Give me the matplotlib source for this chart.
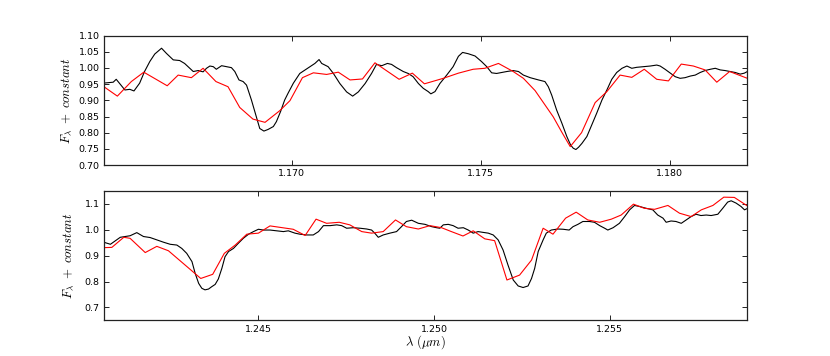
import matplotlib
matplotlib.use('Agg')
import matplotlib.pyplot as plt
from matplotlib.ticker import FormatStrFormatter, MultipleLocator

plt.rcParams['mathtext.fontset'] = 'cm'
plt.rcParams['font.family'] = 'DejaVu Sans'

# ---- top panel (1.165 - 1.182 um) ----
top_obs_wave = [1.16500, 1.16527, 1.16535, 1.16558, 1.16571, 1.16582, 1.16597, 1.16610, 1.16624,
                1.16637, 1.16655, 1.16668, 1.16686, 1.16703, 1.16716, 1.16730, 1.16739, 1.16752,
                1.16765, 1.16774, 1.16783, 1.16792, 1.16800, 1.16814, 1.16827, 1.16840, 1.16849,
                1.16860, 1.16871, 1.16880, 1.16893, 1.16906, 1.16915, 1.16926, 1.16937, 1.16951,
                1.16959, 1.16970, 1.16981, 1.16990, 1.17004, 1.17021, 1.17048, 1.17061, 1.17072,
                1.17079, 1.17096, 1.17110, 1.17127, 1.17145, 1.17161, 1.17176, 1.17194, 1.17211,
                1.17224, 1.17238, 1.17253, 1.17264, 1.17277, 1.17295, 1.17308, 1.17321, 1.17335,
                1.17348, 1.17361, 1.17368, 1.17379, 1.17392, 1.17410, 1.17427, 1.17441, 1.17452,
                1.17467, 1.17485, 1.17502, 1.17516, 1.17529, 1.17542, 1.17555, 1.17569, 1.17586,
                1.17600, 1.17613, 1.17631, 1.17653, 1.17670, 1.17679, 1.17688, 1.17701, 1.17715,
                1.17728, 1.17738, 1.17745, 1.17752, 1.17759, 1.17768, 1.17781, 1.17794, 1.17807,
                1.17821, 1.17834, 1.17847, 1.17860, 1.17874, 1.17887, 1.17900, 1.17913, 1.17931,
                1.17949, 1.17966, 1.17975, 1.17988, 1.18002, 1.18015, 1.18028, 1.18041, 1.18055,
                1.18068, 1.18081, 1.18094, 1.18108, 1.18121, 1.18134, 1.18147, 1.18160, 1.18174,
                1.18187, 1.18198, 1.18206]
top_obs_flux = [0.953, 0.956, 0.965, 0.932, 0.934, 0.929, 0.953, 0.989, 1.020,
                1.043, 1.061, 1.045, 1.025, 1.023, 1.014, 0.999, 0.989, 0.992,
                0.988, 0.999, 1.006, 1.004, 0.996, 1.007, 1.004, 1.001, 0.989,
                0.963, 0.958, 0.947, 0.901, 0.849, 0.813, 0.805, 0.810, 0.819,
                0.834, 0.865, 0.901, 0.922, 0.953, 0.983, 1.004, 1.014, 1.026,
                1.014, 1.004, 0.983, 0.952, 0.926, 0.913, 0.926, 0.952, 0.983,
                1.011, 1.007, 1.014, 1.011, 1.001, 0.989, 0.983, 0.973, 0.952,
                0.937, 0.927, 0.920, 0.927, 0.952, 0.978, 1.004, 1.036, 1.048,
                1.044, 1.037, 1.020, 1.004, 0.985, 0.983, 0.986, 0.989, 0.992,
                0.989, 0.978, 0.970, 0.963, 0.958, 0.942, 0.916, 0.870, 0.829,
                0.788, 0.762, 0.752, 0.748, 0.755, 0.767, 0.788, 0.824, 0.860,
                0.901, 0.932, 0.965, 0.986, 0.999, 1.006, 0.999, 1.002, 1.004,
                1.006, 1.009, 1.006, 0.996, 0.984, 0.973, 0.968, 0.970, 0.975,
                0.978, 0.986, 0.992, 0.996, 0.999, 0.994, 0.992, 0.989, 0.986,
                0.981, 0.984, 0.989]

top_mod_wave = [1.16500, 1.16538, 1.16575, 1.16608, 1.16670, 1.16699, 1.16734, 1.16765, 1.16799,
                1.16831, 1.16862, 1.16897, 1.16929, 1.16968, 1.16995, 1.17028, 1.17057, 1.17092,
                1.17123, 1.17154, 1.17187, 1.17220, 1.17284, 1.17319, 1.17351, 1.17401, 1.17441,
                1.17480, 1.17511, 1.17547, 1.17586, 1.17613, 1.17644, 1.17692, 1.17714, 1.17737,
                1.17767, 1.17803, 1.17834, 1.17869, 1.17900, 1.17933, 1.17966, 1.17997, 1.18031,
                1.18063, 1.18094, 1.18125, 1.18159, 1.18206]
top_mod_flux = [0.944, 0.913, 0.958, 0.987, 0.945, 0.978, 0.970, 0.999, 0.958,
                0.942, 0.878, 0.842, 0.832, 0.868, 0.899, 0.970, 0.985, 0.980,
                0.987, 0.963, 0.966, 1.016, 0.965, 0.984, 0.951, 0.968, 0.984,
                0.996, 0.999, 1.014, 0.989, 0.968, 0.930, 0.849, 0.803, 0.757,
                0.800, 0.893, 0.927, 0.978, 0.971, 0.996, 0.965, 0.960, 1.012,
                1.006, 0.994, 0.956, 0.989, 0.968]

# ---- bottom panel (1.2406 - 1.2589 um) ----
bot_obs_wave = [1.24060, 1.24079, 1.24107, 1.24135, 1.24154, 1.24173, 1.24192, 1.24211, 1.24230,
                1.24249, 1.24268, 1.24282, 1.24296, 1.24311, 1.24320, 1.24330, 1.24339, 1.24348,
                1.24358, 1.24367, 1.24377, 1.24386, 1.24396, 1.24405, 1.24415, 1.24429, 1.24443,
                1.24457, 1.24472, 1.24486, 1.24500, 1.24514, 1.24533, 1.24552, 1.24571, 1.24585,
                1.24604, 1.24618, 1.24637, 1.24656, 1.24671, 1.24685, 1.24704, 1.24723, 1.24737,
                1.24751, 1.24770, 1.24789, 1.24808, 1.24822, 1.24831, 1.24841, 1.24855, 1.24874,
                1.24893, 1.24907, 1.24921, 1.24936, 1.24955, 1.24974, 1.24993, 1.25007, 1.25016,
                1.25026, 1.25040, 1.25054, 1.25068, 1.25083, 1.25097, 1.25111, 1.25125, 1.25139,
                1.25154, 1.25168, 1.25182, 1.25196, 1.25210, 1.25225, 1.25239, 1.25253, 1.25267,
                1.25277, 1.25286, 1.25296, 1.25310, 1.25319, 1.25333, 1.25352, 1.25367, 1.25384,
                1.25395, 1.25409, 1.25423, 1.25442, 1.25456, 1.25471, 1.25485, 1.25494, 1.25509,
                1.25527, 1.25542, 1.25556, 1.25570, 1.25584, 1.25603, 1.25622, 1.25636, 1.25651,
                1.25660, 1.25674, 1.25688, 1.25703, 1.25717, 1.25731, 1.25745, 1.25759, 1.25774,
                1.25788, 1.25807, 1.25821, 1.25835, 1.25845, 1.25859, 1.25873, 1.25883, 1.25889]
bot_obs_flux = [0.952, 0.944, 0.971, 0.977, 0.989, 0.974, 0.970, 0.961, 0.952,
                0.944, 0.941, 0.928, 0.909, 0.877, 0.832, 0.793, 0.774, 0.768,
                0.771, 0.780, 0.789, 0.810, 0.851, 0.896, 0.916, 0.928, 0.948,
                0.967, 0.983, 0.993, 1.002, 0.999, 0.999, 0.996, 0.993, 0.996,
                0.987, 0.983, 0.980, 0.980, 0.993, 1.016, 1.016, 1.019, 1.016,
                1.006, 1.008, 1.006, 1.003, 0.999, 0.987, 0.971, 0.980, 0.987,
                0.993, 1.012, 1.032, 1.037, 1.025, 1.021, 1.012, 1.008, 1.006,
                1.019, 1.021, 1.016, 1.006, 1.008, 0.999, 0.987, 0.993, 0.990,
                0.987, 0.980, 0.961, 0.922, 0.864, 0.806, 0.783, 0.777, 0.783,
                0.812, 0.851, 0.916, 0.961, 0.987, 0.999, 1.003, 1.002, 0.999,
                1.012, 1.021, 1.032, 1.032, 1.029, 1.016, 1.006, 0.999, 1.008,
                1.025, 1.051, 1.077, 1.094, 1.090, 1.083, 1.077, 1.057, 1.045,
                1.029, 1.034, 1.032, 1.025, 1.038, 1.051, 1.060, 1.055, 1.057,
                1.055, 1.060, 1.083, 1.107, 1.112, 1.103, 1.090, 1.077, 1.081]

bot_mod_wave = [1.24060, 1.24083, 1.24117, 1.24135, 1.24178, 1.24211, 1.24244, 1.24336, 1.24370,
                1.24403, 1.24434, 1.24467, 1.24500, 1.24533, 1.24599, 1.24633, 1.24664, 1.24694,
                1.24730, 1.24760, 1.24794, 1.24822, 1.24855, 1.24890, 1.24921, 1.24955, 1.24988,
                1.25021, 1.25049, 1.25082, 1.25111, 1.25144, 1.25172, 1.25207, 1.25243, 1.25277,
                1.25310, 1.25338, 1.25374, 1.25404, 1.25437, 1.25471, 1.25504, 1.25532, 1.25567,
                1.25598, 1.25627, 1.25665, 1.25698, 1.25731, 1.25760, 1.25793, 1.25824, 1.25854,
                1.25889]
bot_mod_flux = [0.931, 0.932, 0.971, 0.967, 0.912, 0.936, 0.919, 0.812, 0.828,
                0.909, 0.941, 0.983, 0.987, 1.015, 1.002, 0.978, 1.041, 1.025,
                1.029, 1.019, 0.993, 0.987, 0.993, 1.038, 1.012, 1.003, 1.016,
                1.008, 0.993, 0.976, 0.996, 0.965, 0.958, 0.806, 0.825, 0.883,
                1.006, 0.983, 1.045, 1.068, 1.038, 1.029, 1.041, 1.057, 1.099,
                1.083, 1.079, 1.094, 1.064, 1.051, 1.077, 1.094, 1.126, 1.125,
                1.094]

fig, (ax1, ax2) = plt.subplots(2, 1, figsize=(8.3, 3.56), dpi=100)

ax1.plot(top_obs_wave, top_obs_flux, color='k', lw=0.8)
ax1.plot(top_mod_wave, top_mod_flux, color='r', lw=0.8)
ax1.set_xlim(1.16502, 1.18205)
ax1.set_ylim(0.70, 1.10)
ax1.xaxis.set_major_locator(MultipleLocator(0.005))
ax1.yaxis.set_major_locator(MultipleLocator(0.05))
ax1.xaxis.set_major_formatter(FormatStrFormatter('%.3f'))
ax1.yaxis.set_major_formatter(FormatStrFormatter('%.2f'))
ax1.set_ylabel(r'$F_{\lambda}\ +\ constant$', fontsize=9.2, labelpad=3)

ax2.plot(bot_obs_wave, bot_obs_flux, color='k', lw=0.8)
ax2.plot(bot_mod_wave, bot_mod_flux, color='r', lw=0.8)
ax2.set_xlim(1.2406, 1.2589)
ax2.set_ylim(0.65, 1.15)
ax2.xaxis.set_major_locator(MultipleLocator(0.005))
ax2.yaxis.set_major_locator(MultipleLocator(0.1))
ax2.xaxis.set_major_formatter(FormatStrFormatter('%.3f'))
ax2.yaxis.set_major_formatter(FormatStrFormatter('%.1f'))
ax2.set_ylabel(r'$F_{\lambda}\ +\ constant$', fontsize=9.2, labelpad=6)
ax2.set_xlabel(r'$\lambda\ (\mu m)$', fontsize=9.2, labelpad=0)

for ax in (ax1, ax2):
    ax.tick_params(direction='in', top=True, right=True, length=3.5, width=0.6,
                   labelsize=6.8, pad=3)
    for sp in ax.spines.values():
        sp.set_linewidth(0.9)
        sp.set_color('#222222')

plt.subplots_adjust(left=0.125, right=0.9, top=0.9, bottom=0.1, hspace=0.2)
plt.savefig('out.png', dpi=100)
